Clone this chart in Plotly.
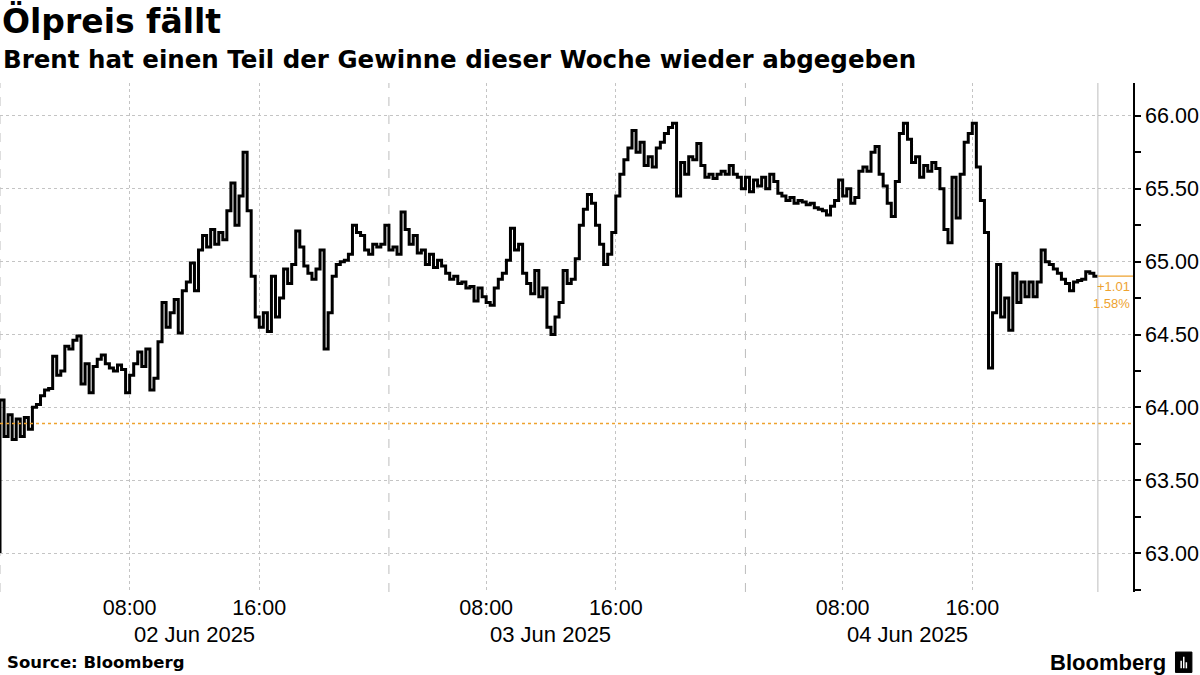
import pandas as pd
import plotly.graph_objects as go

# Brent, 15-minute steps per trading session
day1_prices = [
    63.00, 64.05, 63.80, 63.95, 63.78, 63.92, 63.80, 63.93,
    63.85, 64.00, 64.02, 64.08, 64.12, 64.13, 64.35, 64.22,
    64.25, 64.42, 64.40, 64.46, 64.49, 64.16, 64.30, 64.10,
    64.28, 64.33, 64.36, 64.30, 64.27, 64.25, 64.29, 64.26,
    64.10, 64.22, 64.30, 64.38, 64.28, 64.40, 64.12, 64.20,
    64.45, 64.72, 64.55, 64.65, 64.74, 64.51, 64.80, 64.86,
    64.99, 64.80, 65.08, 65.18, 65.10, 65.22, 65.12, 65.20,
    65.15, 65.35, 65.54, 65.25, 65.45, 65.75, 65.35, 64.90,
    64.62, 64.55, 64.65, 64.52, 64.90, 64.62, 64.75, 64.95,
    64.85, 64.98, 65.21, 65.10, 64.97, 64.92, 64.88, 64.95,
    65.08, 64.40, 64.65, 64.90, 64.98, 65.00, 65.01, 65.05,
    65.25, 65.20, 65.18, 65.08, 65.05, 65.12, 65.10, 65.12,
]
day2_prices = [
    65.25, 65.08, 65.10, 65.05, 65.34, 65.22, 65.12, 65.18,
    65.06, 65.08, 64.98, 65.05, 64.96, 65.01, 64.97, 64.92,
    64.88, 64.90, 64.85, 64.86, 64.82, 64.83, 64.73, 64.82,
    64.76, 64.72, 64.70, 64.82, 64.88, 64.92, 65.01, 65.23,
    65.08, 65.12, 64.92, 64.85, 64.78, 64.94, 64.76, 64.82,
    64.55, 64.50, 64.62, 64.72, 64.94, 64.85, 64.88, 65.02,
    65.25, 65.36, 65.46, 65.40, 65.25, 65.12, 64.98, 65.05,
    65.20, 65.45, 65.60, 65.70, 65.78, 65.90, 65.75, 65.82,
    65.66, 65.72, 65.65, 65.78, 65.82, 65.88, 65.92, 65.95,
    65.45, 65.68, 65.60, 65.72, 65.70, 65.81, 65.66, 65.58,
    65.60, 65.57, 65.60, 65.62, 65.60, 65.66, 65.60, 65.58,
]
day3_prices = [
    65.50, 65.58, 65.48, 65.56, 65.52, 65.58, 65.50, 65.60,
    65.55, 65.47, 65.45, 65.42, 65.44, 65.40, 65.42, 65.41,
    65.39, 65.40, 65.37, 65.36, 65.35, 65.32, 65.38, 65.42,
    65.56, 65.45, 65.50, 65.40, 65.44, 65.62, 65.65, 65.62,
    65.75, 65.79, 65.60, 65.52, 65.40, 65.31, 65.55, 65.88,
    65.95, 65.84, 65.68, 65.72, 65.58, 65.66, 65.62, 65.68,
    65.64, 65.50, 65.22, 65.13, 65.58, 65.30, 65.60, 65.82,
    65.88, 65.95, 65.65, 65.42, 65.20, 64.27, 64.65, 64.98,
    64.62, 64.75, 64.53, 64.92, 64.72, 64.86, 64.76, 64.86,
    64.76, 64.86, 65.08, 65.00, 64.98, 64.95, 64.92, 64.88,
    64.85, 64.80, 64.86, 64.87, 64.88, 64.93, 64.92, 64.90,
]
prev_close = 63.89

session_starts = ["2025-06-02 00:00", "2025-06-03 02:00", "2025-06-04 02:00"]
day_dates = ["2025-06-02", "2025-06-03", "2025-06-04"]
day_labels = ["02 Jun 2025", "03 Jun 2025", "04 Jun 2025"]
hour_ticks = ["08:00", "16:00"]

sessions = [day1_prices, day2_prices, day3_prices]
times = []
prices = []
for start, vals in zip(session_starts, sessions):
    times += list(pd.date_range(start, periods=len(vals), freq="15min"))
    prices += vals

last_time = times[-1]
last_price = prices[-1]
x_end = pd.Timestamp("2025-06-05 01:55")

ORANGE = "#eea22f"
GRID = "#c4c4c4"
LABEL_FONT = "Liberation Sans, Arial, sans-serif"
BOLD_FONT = "DejaVu Sans, Verdana, sans-serif"

fig = go.Figure()
fig.add_trace(go.Scatter(
    x=times, y=prices, mode="lines",
    line=dict(color="black", width=3, shape="vh"),
    hoverinfo="skip", showlegend=False,
))

# previous close (dotted orange) and last price marker
fig.add_hline(y=prev_close, line=dict(color=ORANGE, width=1.5, dash="dot"))
fig.add_shape(type="line", xref="x", yref="y", x0=last_time, x1=x_end,
              y0=last_price, y1=last_price, line=dict(color=ORANGE, width=1.2))
# "now" line
fig.add_shape(type="line", xref="x", yref="paper", x0=last_time, x1=last_time,
              y0=0, y1=1, line=dict(color="#bdbdbd", width=1))
# session separators
for s in session_starts:
    fig.add_shape(type="line", xref="x", yref="paper", x0=s, x1=s, y0=0, y1=1,
                  line=dict(color="#bdbdbd", width=1, dash="dash"), layer="below")

change = last_price - prev_close
pct = change / prev_close * 100
fig.add_annotation(
    x=1, xref="paper", xanchor="right", xshift=-1,
    y=last_price, yref="y", yanchor="top", yshift=-1,
    text=f"{change:+.2f}<br>{pct:.2f}%", align="right", showarrow=False,
    font=dict(family=LABEL_FONT, size=13, color=ORANGE),
)

for d, lab in zip(day_dates, day_labels):
    fig.add_annotation(
        x=f"{d} 12:00", xref="x", y=-0.083, yref="paper",
        text=lab, showarrow=False, yanchor="middle",
        font=dict(family=LABEL_FONT, size=22, color="black"),
    )

fig.add_annotation(
    x=0, xref="paper", xanchor="left", xshift=0, y=1.122, yref="paper", yanchor="middle",
    text="<b>Ölpreis fällt</b>", showarrow=False,
    font=dict(family=BOLD_FONT, size=33, color="black"),
)
fig.add_annotation(
    x=0, xref="paper", xanchor="left", xshift=1, y=1.046, yref="paper", yanchor="middle",
    text="<b>Brent hat einen Teil der Gewinne dieser Woche wieder abgegeben</b>",
    showarrow=False, font=dict(family=BOLD_FONT, size=24.5, color="black"),
)
fig.add_annotation(
    x=0, xref="paper", xanchor="left", xshift=5, y=-0.138, yref="paper", yanchor="middle",
    text="<b>Source: Bloomberg</b>", showarrow=False,
    font=dict(family=BOLD_FONT, size=16.5, color="black"),
)
fig.add_annotation(
    x=1.0305, xref="paper", xanchor="right", y=-0.138, yref="paper", yanchor="middle",
    text="<b>Bloomberg</b>", showarrow=False,
    font=dict(family=LABEL_FONT, size=22, color="black"),
)
# small logo mark
fig.add_shape(type="rect", xref="paper", yref="paper",
              x0=1.0375, x1=1.052, y0=-0.158, y1=-0.118,
              fillcolor="black", line=dict(color="black", width=1))
for bx, top in [(1.0425, -0.135), (1.0448, -0.127), (1.0471, -0.138)]:
    fig.add_shape(type="line", xref="paper", yref="paper",
                  x0=bx, x1=bx, y0=-0.150, y1=top,
                  line=dict(color="white", width=1.5))

tickvals = [f"{d} {h}" for d in day_dates for h in hour_ticks]
ticktext = [h for d in day_dates for h in hour_ticks]

fig.update_xaxes(
    type="date",
    range=[pd.Timestamp(session_starts[0]), x_end],
    rangebreaks=[dict(values=["2025-06-03 00:00:00", "2025-06-04 00:00:00"],
                      dvalue=2 * 3600 * 1000)],
    tickmode="array", tickvals=tickvals, ticktext=ticktext,
    showgrid=True, gridcolor=GRID, griddash="dot", gridwidth=1,
    ticks="", showline=False, zeroline=False,
    tickfont=dict(family=LABEL_FONT, size=21.5, color="black"),
)
fig.update_yaxes(
    side="right", range=[62.733, 66.226],
    tickmode="array", tickvals=[63, 63.5, 64, 64.5, 65, 65.5, 66],
    tickformat=".2f",
    showgrid=True, gridcolor=GRID, griddash="dot", gridwidth=1,
    showline=True, linecolor="black", linewidth=1.5,
    ticks="outside", ticklen=6, tickcolor="black", tickwidth=1.5,
    minor=dict(tickmode="array", tickvals=[62.75, 63.25, 63.75, 64.25, 64.75, 65.25, 65.75, 66.25],
               ticks="outside", ticklen=6, tickcolor="black", showgrid=False),
    zeroline=False,
    tickfont=dict(family=LABEL_FONT, size=21.5, color="black"),
)
fig.update_layout(
    width=1200, height=675,
    margin=dict(l=0, r=67, t=83, b=83),
    plot_bgcolor="white", paper_bgcolor="white",
)

fig.write_html("out.html", config={"displayModeBar": False},
               post_script="document.body.style.margin='0';")
